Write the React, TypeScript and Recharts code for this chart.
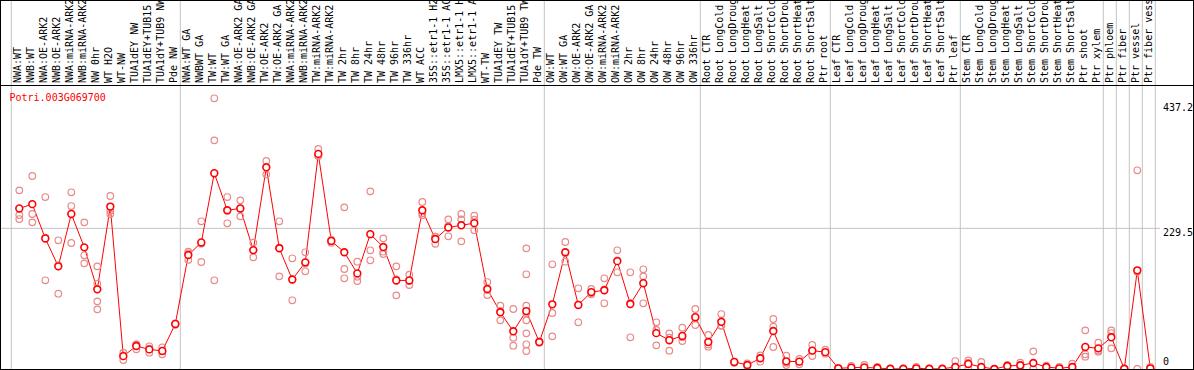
import React from 'react'
import {CartesianGrid, ComposedChart, Line, Scatter, XAxis, YAxis} from 'recharts'

// sample labels, in plot order
const categories = [
	'NWA:WT', 'NWB:WT', 'NWA:OE-ARK2', 'NWB:OE-ARK2', 'NWA:miRNA-ARK2', 'NWB:miRNA-ARK2',
	'NW 0hr', 'WT H2O', 'WT-NW', 'TUA1dEY NW', 'TUA1dEY+TUB15 NW', 'TUA1dY+TUB9 NW', 'Pde NW',
	'NWA:WT GA', 'NWBWT GA', 'TW:WT', 'TW:WT GA', 'NWA:OE-ARK2 GA', 'NWB:OE-ARK2 GA',
	'TW:OE-ARK2', 'TW:OE-ARK2 GA', 'NWA:miRNA-ARK2', 'NWB:miRNA-ARK2', 'TW:miRNA-ARK2',
	'TW:miRNA-ARK2', 'TW 2hr', 'TW 8hr', 'TW 24hr', 'TW 48hr', 'TW 96hr', 'TW 336hr', 'WT ACC',
	'35S::etr1-1 H2O', '35S::etr1-1 ACC', 'LMX5::etr1-1 H2O', 'LMX5::etr1-1 ACC', 'WT-TW',
	'TUA1dEY TW', 'TUA1dEY+TUB15 TW', 'TUA1dY+TUB9 TW', 'Pde TW', 'OW:WT', 'OW:WT GA',
	'OW:OE-ARK2', 'OW:OE-ARK2 GA', 'OW:miRNA-ARK2', 'OW:miRNA-ARK2', 'OW 2hr', 'OW 8hr',
	'OW 24hr', 'OW 48hr', 'OW 96hr', 'OW 336hr', 'Root CTR', 'Root LongCold', 'Root LongDrought',
	'Root LongHeat', 'Root LongSalt', 'Root ShortCold', 'Root ShortDrought', 'Root ShortHeat',
	'Root ShortSalt', 'Ptr root', 'Leaf CTR', 'Leaf LongCold', 'Leaf LongDrought', 'Leaf LongHeat',
	'Leaf LongSalt', 'Leaf ShortCold', 'Leaf ShortDrought', 'Leaf ShortHeat', 'Leaf ShortSalt',
	'Ptr leaf', 'Stem CTR', 'Stem LongCold', 'Stem LongDrought', 'Stem LongHeat', 'Stem LongSalt',
	'Stem ShortCold', 'Stem ShortDrought', 'Stem ShortHeat', 'Stem ShortSalt', 'Ptr shoot',
	'Ptr xylem', 'Ptr phloem', 'Ptr fiber', 'Ptr vessel', 'Ptr fiber vessel',
]

const means = [
	262, 269, 213, 167.5, 253, 198.5, 130, 265, 21, 37.5, 32, 29.5, 73.5,
	186, 206.5, 319.5, 259, 262, 194, 329, 197, 146, 174, 351, 209, 190.5, 156, 220, 199,
	144.5, 144.5, 259, 212, 231, 234.5, 238, 130.5, 92.5, 61.5, 94.5, 44,
	105.5, 190.5, 104.5, 125.5, 128.5, 176, 106, 140, 58.5, 47, 54, 84.5,
	44, 77, 11.5, 6.5, 17.5, 62, 12.5, 12, 30, 27.5,
	1.1, 2.2, 2.5, 1.6, 0.3, 0.3, 1.1, 0.3, 0.3, 3.3,
	8.2, 3.3, 0, 4.9, 6, 9.8, 3.3, 1.1, 3.3, 36, 33.7, 51.7, 0.3, 161, 1.1,
]

const replicates = [
	[291.5, 251.3, 244.7], [314.9, 252.9, 239.3], [280.6, 214.3, 144.7], [210, 122.9, 169.6],
	[288.3, 265.9, 205.6], [239.3, 185.5, 172.4], [167.5, 139.2, 110.4, 97.3], [282.3, 258.3, 252.9],
	[26.6, 14.7, 22.3], [40.2, 32.1, 40], [37, 26.6, 33], [35.4, 24, 29], [72, 74.5, 73.5],
	[191.4, 188.8, 178], [241, 174.6, 204.5], [441.7, 373.1, 144.7], [280.6, 237.7, 258.4],
	[275.2, 249.1, 262], [206.1, 182.2, 194], [339.4, 317.6, 330], [241, 151.2, 198],
	[180.6, 112.1, 146], [190.4, 159.4, 172], [359, 347.5, 348], [211, 206, 209],
	[263.8, 163.2, 148], [175.1, 150.6, 143.6], [289.9, 193.7, 177.4], [213.2, 191.4, 187.6],
	[167.5, 120.2, 146], [153.9, 137, 144], [272.5, 250.8, 254], [215.9, 204.4, 216],
	[244.2, 216.5, 233], [252.9, 244.2, 208.3], [250.2, 243.6, 226.3], [141.9, 120.7, 129],
	[103.3, 79.4, 95], [97.9, 51.1, 38], [196.9, 154.5, 103.3, 91.4, 79.4, 58.2, 40.3, 29.4],
	[45, 44, 43], [170.8, 91.4, 53.3], [207.2, 175.1, 189], [131.7, 76.2, 105], [130.5, 121.9, 124],
	[148, 107.2, 130], [193.7, 157.8, 177], [157.8, 51.7, 108], [162.7, 151.2, 107.2],
	[76.2, 63.6, 38.6], [58.2, 51.1, 29.9], [67.4, 45.7, 52], [97.9, 71.8, 84],
	[55.5, 36.4, 40], [89.7, 70.7, 71], [12, 10, 11], [9.3, 5, 4], [11.9, 18, 22],
	[81.6, 69, 35.9], [21.7, 6.5, 10], [16.3, 7.7, 12], [39.2, 21.2, 30], [31.5, 25, 27],
	[0.5, 1.5, 1.2], [4.9, 1, 0.5], [6.5, 1, 0], [0.5, 3.6, 0.8], [0.2, 0.5, 0.2],
	[0.3, 0.4, 0.2], [3.6, 0, 0], [0.3, 0.2, 0.4], [0.3, 0.5, 0.1], [13, 0, 0],
	[14.1, 10.3, 0.2], [11.4, 0, 0], [0, 0, 0], [6.5, 4, 4.2], [10.3, 4, 3.7], [28.8, 0.3, 0.3],
	[5.4, 2.5, 2], [3.3, 0, 0], [8.7, 1, 0.2], [63.1, 24, 20.1], [42.9, 28.3, 30],
	[63.1, 58.7, 33.7], [0, 0.5, 0.4], [324.2, 0, 158.8], [3.6, 0, 0],
]

const yTicks = [0, 229.5, 437.2]
// groups end after these sample indices (-1 = left edge)
const groupEnds = [-1, 12, 40, 52, 62, 72, 83, 84, 85, 86, 87]
const geneId = 'Potri.003G069700'

const W = 1194
const H = 370
const FONT = "'DejaVu Sans Mono', monospace"

const rows = categories.map((name, i) => ({i, name, mean: means[i]}))
const reps = replicates.flatMap((vals, i) => vals.map((v) => ({i, v})))

function LabelTick({x, payload}: any) {
	const lx = x + 1.5
	return (
		<text
			x={lx}
			y={83}
			transform={`rotate(-90, ${lx}, 83)`}
			fontFamily={FONT}
			fontSize={10}
			fill='#000'
			textAnchor='start'
		>
			{categories[payload.value]}
		</text>
	)
}

function ValueTick({y, payload}: any) {
	const v = payload.value
	const dy = v === 0 ? -4 : v > 300 ? 10 : 8
	return (
		<text x={1163} y={y + dy} fontFamily={FONT} fontSize={10} fill='#000'>
			{String(v)}
		</text>
	)
}

const meanDot = (p: any) => (
	<circle key={`m${p.index}`} cx={p.cx} cy={p.cy} r={3.4} fill='#fff' stroke='#f00' strokeWidth={1.6} />
)

const repDot = (p: any) => (
	<circle cx={p.cx} cy={p.cy} r={3.3} fill='none' stroke='#e98a8a' strokeWidth={1.2} />
)

export default function App() {
	return (
		<div style={{position: 'absolute', left: 0, top: 0, width: W, height: H, background: '#fff'}}>
			<ComposedChart width={W} height={H} data={rows} margin={{top: 0, right: 0, bottom: 1, left: 0}}>
				<CartesianGrid
					y={0}
					height={H}
					stroke='#c4c4c4'
					horizontalValues={[229.5]}
					verticalValues={groupEnds.map((g) => g + 0.385)}
				/>
				<XAxis
					type='number'
					dataKey='i'
					orientation='top'
					height={85}
					domain={[-1.4846, 87.7462]}
					allowDataOverflow
					ticks={categories.map((_, i) => i)}
					interval={0}
					tick={<LabelTick />}
					axisLine={false}
					tickLine={false}
				/>
				<YAxis
					type='number'
					orientation='right'
					width={34}
					domain={[0, 463.4]}
					allowDataOverflow
					ticks={yTicks}
					interval={0}
					tick={<ValueTick />}
					axisLine={false}
					tickLine={false}
				/>
				<Scatter data={reps} dataKey='v' shape={repDot} isAnimationActive={false} />
				<Line
					dataKey='mean'
					stroke='#f00'
					strokeWidth={1}
					dot={meanDot}
					activeDot={false}
					isAnimationActive={false}
				/>
			</ComposedChart>
			<svg
				width={W}
				height={H}
				style={{position: 'absolute', left: 0, top: 0, pointerEvents: 'none'}}
				shapeRendering='crispEdges'
			>
				<rect x={0.5} y={0.5} width={W - 1} height={369} fill='none' stroke='#000' />
				<line x1={0} y1={85.5} x2={W} y2={85.5} stroke='#000' />
				<text x={9.5} y={101} fontFamily={FONT} fontSize={10} fill='#f00' shapeRendering='auto'>
					{geneId}
				</text>
			</svg>
		</div>
	)
}
